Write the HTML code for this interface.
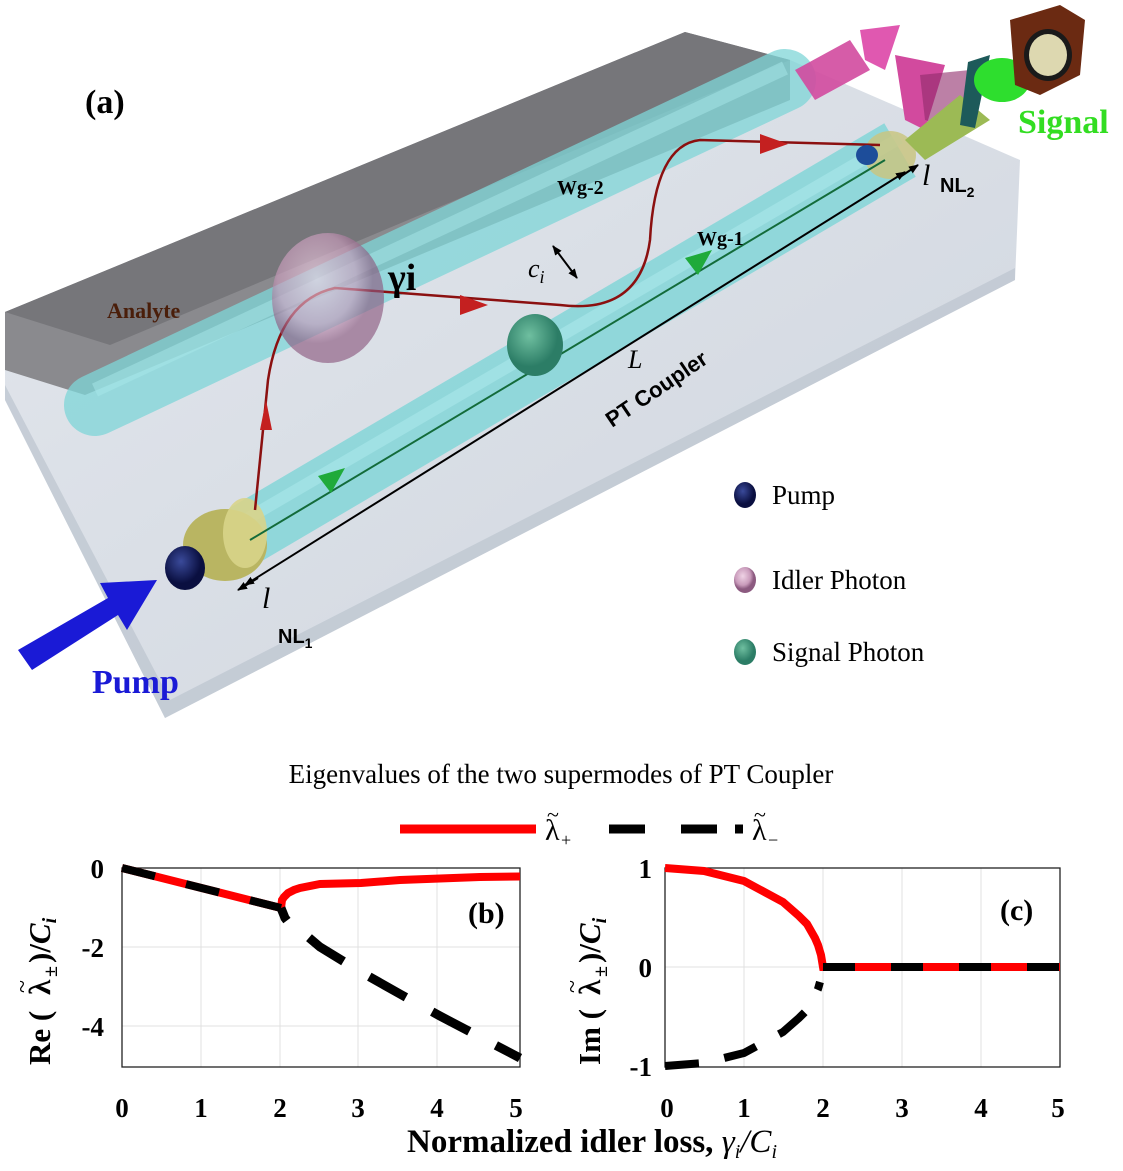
<!DOCTYPE html>
<html><head><meta charset="utf-8"><style>
body{margin:0;background:#fff;width:1123px;height:1171px;overflow:hidden}
svg{display:block}
.s{font-family:"Liberation Serif",serif}
.a{font-family:"Liberation Sans",sans-serif}
</style></head><body>
<svg width="1123" height="1171" viewBox="0 0 1123 1171" xmlns="http://www.w3.org/2000/svg">
<defs>
<linearGradient id="slab" x1="0" y1="0" x2="1" y2="1"><stop offset="0" stop-color="#e3e7ed"/><stop offset="1" stop-color="#cfd5de"/></linearGradient>
<radialGradient id="pk" cx=".4" cy=".35"><stop offset="0" stop-color="#efd3e5"/><stop offset=".7" stop-color="#c99bbb"/><stop offset="1" stop-color="#8c5a80"/></radialGradient>
<radialGradient id="gr" cx=".4" cy=".35"><stop offset="0" stop-color="#6fbfa0"/><stop offset="1" stop-color="#2c7d66"/></radialGradient>
<radialGradient id="bl" cx=".4" cy=".35"><stop offset="0" stop-color="#3a4a9a"/><stop offset="1" stop-color="#0a0f40"/></radialGradient>
<marker id="ah" markerWidth="10" markerHeight="10" refX="9" refY="5" orient="auto-start-reverse" markerUnits="userSpaceOnUse"><path d="M0,1 L10,5 L0,9 Z" fill="#000"/></marker>
</defs>
<polygon points="5,330 790,60 1020,160 1015,280 165,718 5,400" fill="url(#slab)"/>
<polygon points="5,385 170,700 1015,268 1015,280 165,718 5,400" fill="#bcc4cf" opacity=".7"/>
<polygon points="5,312 685,32 790,60 790,100 85,395 5,370" fill="#8a8a8e"/>
<polygon points="5,312 685,32 790,60 110,345" fill="#76767a"/>
<line x1="95" y1="405" x2="785" y2="80" stroke="#7fd6d8" stroke-width="62" stroke-linecap="round" opacity=".75"/>
<line x1="95" y1="390" x2="785" y2="68" stroke="#a8e8ea" stroke-width="14" opacity=".5"/>
<line x1="245" y1="535" x2="900" y2="150" stroke="#7fd6d8" stroke-width="62" opacity=".8"/>
<line x1="245" y1="520" x2="900" y2="138" stroke="#b0ecee" stroke-width="12" opacity=".5"/>
<ellipse cx="225" cy="545" rx="42" ry="36" fill="#b9b562"/>
<ellipse cx="245" cy="533" rx="22" ry="35" fill="#d8d48a" opacity=".9"/>
<ellipse cx="890" cy="155" rx="26" ry="24" fill="#c9c681" opacity=".85"/>
<line x1="250" y1="540" x2="885" y2="160" stroke="#136b3a" stroke-width="2"/>
<polygon points="345,468 318,476 331,493" fill="#1faa3a"/>
<polygon points="712,250 685,258 698,275" fill="#1faa3a"/>
<path d="M255,510 L268,380 Q280,300 335,288 L560,305 Q640,315 650,240 Q655,145 700,140 L880,145" fill="none" stroke="#8b1010" stroke-width="2.5"/>
<polygon points="260,430 272,430 266,400" fill="#c42020"/>
<polygon points="460,295 460,315 488,305" fill="#c42020"/>
<polygon points="760,134 760,154 788,144" fill="#c42020"/>
<line x1="245" y1="585" x2="905" y2="172" stroke="#000" stroke-width="2" marker-start="url(#ah)" marker-end="url(#ah)"/>
<line x1="238" y1="590" x2="258" y2="578" stroke="#000" stroke-width="2" marker-start="url(#ah)"/>
<line x1="900" y1="177" x2="918" y2="165" stroke="#000" stroke-width="2" marker-end="url(#ah)"/>
<line x1="553" y1="246" x2="577" y2="278" stroke="#000" stroke-width="2" marker-start="url(#ah)" marker-end="url(#ah)"/>
<ellipse cx="328" cy="298" rx="56" ry="65" fill="url(#pk)" opacity=".65"/>
<ellipse cx="535" cy="345" rx="28" ry="31" fill="url(#gr)"/>
<ellipse cx="185" cy="568" rx="20" ry="22" fill="url(#bl)"/>
<ellipse cx="867" cy="155" rx="11" ry="10" fill="#1d4d9a"/>
<polygon points="18,650 108,598 100,583 157,580 127,630 118,615 32,670" fill="#1a1ad6"/>
<polygon points="795,70 850,40 870,70 815,100" fill="#d24a9e" opacity=".9"/>
<polygon points="860,30 900,25 885,70 865,60" fill="#e058b0"/>
<polygon points="895,55 945,65 925,130 905,120" fill="#d24a9e"/>
<polygon points="920,75 970,70 960,130 925,120" fill="#8f2b6a" opacity=".6"/>
<polygon points="905,140 960,95 990,120 925,160" fill="#9cba55"/>
<polygon points="968,62 990,55 975,128 960,125" fill="#1d5a5a"/>
<ellipse cx="1002" cy="80" rx="28" ry="22" fill="#2ede2e"/>
<polygon points="1010,20 1060,5 1085,20 1080,75 1040,95 1015,85" fill="#6b2a12"/>
<ellipse cx="1048" cy="55" rx="24" ry="26" fill="#1a1a1a"/>
<ellipse cx="1048" cy="55" rx="19" ry="21" fill="#ddd8b0"/>
<text x="85" y="113" class="s" font-size="34" font-weight="bold">(a)</text>
<text x="107" y="318" class="s" font-size="22" font-weight="bold" fill="#4a1e0a">Analyte</text>
<text x="388" y="290" class="s" font-size="38" font-weight="bold">γi</text>
<text x="557" y="194" class="s" font-size="20" font-weight="bold">Wg-2</text>
<text x="697" y="245" class="s" font-size="20" font-weight="bold">Wg-1</text>
<text x="528" y="277" class="s" font-size="26" font-style="italic">c<tspan font-size="18" dy="6">i</tspan></text>
<text x="628" y="368" class="s" font-size="26" font-style="italic">L</text>
<text x="0" y="0" class="a" font-size="22" font-weight="bold" transform="translate(612,428) rotate(-34)">PT Coupler</text>
<text x="262" y="608" class="s" font-size="30" font-style="italic">l</text>
<text x="278" y="643" class="a" font-size="20" font-weight="bold">NL<tspan font-size="14" dy="5">1</tspan></text>
<text x="922" y="185" class="s" font-size="30" font-style="italic">l</text>
<text x="940" y="192" class="a" font-size="20" font-weight="bold">NL<tspan font-size="14" dy="5">2</tspan></text>
<text x="1018" y="133" class="s" font-size="34" font-weight="bold" fill="#33dd22">Signal</text>
<text x="92" y="693" class="s" font-size="34" font-weight="bold" fill="#1a1ad6">Pump</text>
<ellipse cx="745" cy="495" rx="11" ry="13" fill="url(#bl)"/>
<ellipse cx="745" cy="580" rx="11" ry="13" fill="url(#pk)"/>
<ellipse cx="745" cy="652" rx="11" ry="13" fill="url(#gr)"/>
<text x="772" y="504" class="s" font-size="27">Pump</text>
<text x="772" y="589" class="s" font-size="27">Idler Photon</text>
<text x="772" y="661" class="s" font-size="27">Signal Photon</text>

<text x="561" y="783" class="s" font-size="27" text-anchor="middle">Eigenvalues of the two supermodes of PT Coupler</text>
<line x1="400" y1="829" x2="536" y2="829" stroke="red" stroke-width="9"/>
<text x="545" y="840" class="s" font-size="30">λ</text><text x="547" y="822" class="s" font-size="22">~</text><text x="561" y="846" class="s" font-size="18">+</text>
<g stroke="#000" stroke-width="9"><line x1="609" y1="829" x2="645" y2="829"/><line x1="681" y1="829" x2="717" y2="829"/><line x1="735" y1="829" x2="743" y2="829"/></g>
<text x="752" y="840" class="s" font-size="30">λ</text><text x="754" y="822" class="s" font-size="22">~</text><text x="768" y="846" class="s" font-size="18">−</text>
<g stroke="#e0e0e0" stroke-width="1">
<line x1="201" y1="868" x2="201" y2="1067"/><line x1="280" y1="868" x2="280" y2="1067"/><line x1="358" y1="868" x2="358" y2="1067"/><line x1="437" y1="868" x2="437" y2="1067"/>
<line x1="122" y1="947" x2="520" y2="947"/><line x1="122" y1="1026" x2="520" y2="1026"/>
<line x1="744" y1="868" x2="744" y2="1067"/><line x1="823" y1="868" x2="823" y2="1067"/><line x1="902" y1="868" x2="902" y2="1067"/><line x1="981" y1="868" x2="981" y2="1067"/>
<line x1="665" y1="967" x2="1060" y2="967"/>
</g>
<rect x="122" y="868" width="398" height="199" fill="none" stroke="#222" stroke-width="1.3"/>
<rect x="665" y="868" width="395" height="199" fill="none" stroke="#222" stroke-width="1.3"/>
<polyline points="122,868 281,908 282,900 284,897 288,893 294,890 300,888 320,884 361,883 400,880 440,878.5 480,877 520,876.5" fill="none" stroke="red" stroke-width="8"/>
<line x1="122" y1="868" x2="281" y2="908" stroke="#000" stroke-width="8" stroke-dasharray="34 32"/>
<polyline points="281,908 285,918 288,922 300,930 320,947 361,972 400,994 440,1016 480,1037 520,1058" fill="none" stroke="#000" stroke-width="9" stroke-dasharray="14 28 42 30 42 30 42 30 42 30 42 30"/>
<polyline points="665,868 704,871 744,881 783,902 799,916 807,924 815,938 818,945 821,955 823,967 1060,967" fill="none" stroke="red" stroke-width="8"/>
<line x1="823" y1="967" x2="1060" y2="967" stroke="#000" stroke-width="8" stroke-dasharray="32 36"/>
<polyline points="665,1066 704,1063 744,1053 783,1032 799,1018 807,1010 815,996 818,989 820,982" fill="none" stroke="#000" stroke-width="8" stroke-dasharray="34 26"/>
<text x="468" y="923" class="s" font-size="30" font-weight="bold">(b)</text>
<text x="1000" y="920" class="s" font-size="30" font-weight="bold">(c)</text>
<g class="s" font-size="27" font-weight="bold" text-anchor="middle">
<text x="122" y="1117">0</text><text x="201" y="1117">1</text><text x="280" y="1117">2</text><text x="358" y="1117">3</text><text x="437" y="1117">4</text><text x="516" y="1117">5</text>
<text x="667" y="1117">0</text><text x="744" y="1117">1</text><text x="823" y="1117">2</text><text x="902" y="1117">3</text><text x="981" y="1117">4</text><text x="1058" y="1117">5</text>
</g>
<g class="s" font-size="27" font-weight="bold" text-anchor="end">
<text x="104" y="878">0</text><text x="104" y="957">-2</text><text x="104" y="1036">-4</text>
<text x="652" y="878">1</text><text x="652" y="977">0</text><text x="652" y="1076">-1</text>
</g>
<g transform="translate(50,967) rotate(-90)" class="s" font-weight="bold">
<text x="-98" y="0" font-size="31">Re (</text><text x="-28" y="0" font-size="31">λ</text><text x="-26" y="-20" font-size="24" font-weight="normal">~</text><text x="-10" y="7" font-size="20">±</text><text x="4" y="0" font-size="31">)/<tspan font-style="italic">C</tspan><tspan font-size="20" dy="6" font-style="italic">i</tspan></text>
</g>
<g transform="translate(600,967) rotate(-90)" class="s" font-weight="bold">
<text x="-98" y="0" font-size="31">Im (</text><text x="-28" y="0" font-size="31">λ</text><text x="-26" y="-20" font-size="24" font-weight="normal">~</text><text x="-10" y="7" font-size="20">±</text><text x="4" y="0" font-size="31">)/<tspan font-style="italic">C</tspan><tspan font-size="20" dy="6" font-style="italic">i</tspan></text>
</g>
<text x="592" y="1152" class="s" font-size="33" font-weight="bold" text-anchor="middle">Normalized idler loss, <tspan font-style="italic" font-weight="normal">γ<tspan font-size="20" dy="6">i</tspan><tspan dy="-6">/C</tspan><tspan font-size="20" dy="6">i</tspan></tspan></text>
</svg>
</body></html>
